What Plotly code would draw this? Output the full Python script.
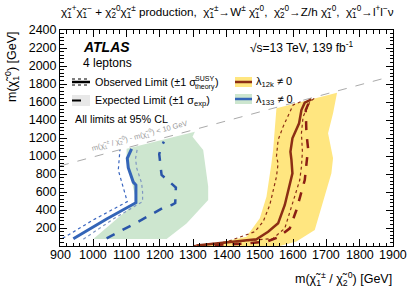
import plotly.graph_objects as go

# ---------------- data ----------------
# lambda_133 (blue / green)
obs133_x = [940, 1040, 1128, 1128, 1120, 1105, 1102, 1115]
obs133_y = [80, 300, 481, 678, 710, 870, 974, 1078]
obs133_up_x = [970, 1060, 1148, 1148, 1145, 1130, 1127, 1132]
obs133_up_y = [75, 300, 493, 600, 700, 870, 974, 1078]
obs133_dn_x = [908, 1000, 1102, 1075, 1080]
obs133_dn_y = [85, 290, 493, 844, 1067]
exp133_x = [1040, 1130, 1210, 1235, 1246, 1248, 1205, 1198, 1205, 1212]
exp133_y = [85, 260, 425, 455, 478, 650, 790, 1020, 1110, 1160]
band133_x = [1100, 1100, 1115, 1130, 1000, 1220, 1280, 1345, 1345, 1335, 1330, 1298, 1305]
band133_y = [1080, 975, 720, 490, 78, 78, 250, 510, 660, 937, 1067, 1215, 1270]

# lambda_12k (brown / yellow)
obs12k_x = [1310, 1400, 1490, 1525, 1555, 1575, 1598, 1595, 1592, 1598, 1618, 1625, 1635, 1655]
obs12k_y = [5, 40, 75, 159, 252, 456, 807, 956, 1048, 1196, 1363, 1511, 1593, 1630]
obs12k_up_x = [1320, 1450, 1540, 1575, 1595, 1620, 1625, 1628, 1625, 1630, 1650, 1670]
obs12k_up_y = [8, 50, 85, 196, 437, 733, 881, 1048, 1252, 1437, 1600, 1660]
obs12k_dn_x = [1300, 1400, 1485, 1510, 1530, 1550, 1555, 1550, 1555, 1570, 1600, 1630]
obs12k_dn_y = [5, 45, 159, 270, 456, 770, 919, 993, 1178, 1326, 1567, 1615]
exp12k_x = [1310, 1450, 1520, 1555, 1590, 1610, 1635, 1642, 1645, 1640, 1638, 1648]
exp12k_y = [3, 25, 48, 96, 196, 400, 733, 956, 1085, 1252, 1511, 1600]
band12k_x = [1550, 1545, 1540, 1535, 1520, 1500, 1460, 1380, 1300, 1450, 1560, 1610, 1665, 1715, 1720, 1705, 1720, 1732]
band12k_y = [1530, 1289, 1067, 919, 548, 307, 104, 40, 0, 0, 0, 50, 178, 807, 974, 1252, 1474, 1704]

# kinematic boundary  m(chi1+-) - m(chi10) = 10 GeV
kin_x = [900, 1900]
kin_y = [890, 1890]

x_ticks = [900, 1000, 1100, 1200, 1300, 1400, 1500, 1600, 1700, 1800, 1900]
y_ticks = [200, 400, 600, 800, 1000, 1200, 1400, 1600, 1800, 2000, 2200, 2400]

# ---------------- styling ----------------
FONT = "Liberation Sans"
YELLOW = "#ffe680"
GREEN = "#cde6cf"
BROWN = "#8c2e14"
BLUE = "#3465b8"

fig = go.Figure()

def band(x, y, color):
    fig.add_trace(go.Scatter(x=x, y=y, fill="toself", fillcolor=color, mode="lines",
                             line=dict(width=0), hoverinfo="skip", showlegend=False))

def line(x, y, color, width, dash="solid"):
    fig.add_trace(go.Scatter(x=x, y=y, mode="lines", line=dict(color=color, width=width, dash=dash),
                             hoverinfo="skip", showlegend=False))

band(band133_x, band133_y, GREEN)
band(band12k_x, band12k_y, YELLOW)
line(kin_x, kin_y, "#aaaaaa", 1, "dash")

line(obs133_dn_x, obs133_dn_y, "#3a66c0", 1.2, "dot")
line(obs133_up_x, obs133_up_y, "#7f97c2", 1.2, "dot")
line(exp133_x, exp133_y, "#2a55a8", 2.5, "dash")
line(obs133_x, obs133_y, BLUE, 3)

line(obs12k_dn_x, obs12k_dn_y, BROWN, 1.2, "dot")
line(obs12k_up_x, obs12k_up_y, BROWN, 1.2, "dot")
line(exp12k_x, exp12k_y, "#8b1e14", 2.5, "dash")
line(obs12k_x, obs12k_y, BROWN, 2.5)

# ---------------- layout ----------------
L, R, T, B = 60, 14, 30, 46
W, H = 407, 292
pw, ph = W - L - R, H - T - B

def px(xp):
    return (xp - L) / pw

def py(yp):
    return (H - B - yp) / ph

axis_common = dict(showgrid=False, zeroline=False, showline=True, linecolor="black", linewidth=1,
                   mirror="ticks", ticks="inside", tickcolor="black", ticklen=7, automargin=False,
                   tickfont=dict(family=FONT, size=12.5, color="black"))

fig.update_layout(
    width=W, height=H, margin=dict(l=L, r=R, t=T, b=B, autoexpand=False),
    plot_bgcolor="white", paper_bgcolor="white",
    xaxis=dict(range=[900, 1900], tickvals=x_ticks, showticklabels=False,
               minor=dict(dtick=20, tick0=900, ticks="inside", ticklen=3.5, tickcolor="black"),
               **axis_common),
    yaxis=dict(range=[0, 2400], tickvals=y_ticks, ticktext=[str(v) for v in y_ticks],
               minor=dict(dtick=40, tick0=0, ticks="inside", ticklen=3.5, tickcolor="black"),
               **axis_common),
    showlegend=False,
)

ann = []
def text(x, y, s, size=11, xanchor="left", yanchor="middle", color="black", angle=0, xref="paper", yref="paper", **kw):
    ann.append(dict(x=x, y=y, xref=xref, yref=yref, text=s, showarrow=False, xanchor=xanchor,
                    yanchor=yanchor, textangle=angle,
                    font=dict(family=FONT, size=size, color=color), **kw))

# x tick labels
for v in x_ticks:
    text(v, py(255), str(v), size=12.5, xanchor="center", xref="x")

chi = "χ̃"
title = (f"{chi}<sub>1</sub><sup>+</sup>{chi}<sub>1</sub><sup>−</sup> + {chi}<sub>2</sub><sup>0</sup>{chi}<sub>1</sub><sup>±</sup> production,  "
         f"{chi}<sub>1</sub><sup>±</sup>→W<sup>±</sup> {chi}<sub>1</sub><sup>0</sup>,  "
         f"{chi}<sub>2</sub><sup>0</sup>→Z/h {chi}<sub>1</sub><sup>0</sup>,  "
         f"{chi}<sub>1</sub><sup>0</sup>→l<sup>+</sup>l<sup>−</sup>ν")
text(px(396), py(12), title, size=11.7, xanchor="right")

text(px(394), py(279), f"m({chi}<sub>1</sub><sup>±</sup> / {chi}<sub>2</sub><sup>0</sup>) [GeV]", size=12.5, xanchor="right")
text(px(12), py(30), f"m({chi}<sub>1</sub><sup>0</sup>) [GeV]", size=12.5, xanchor="center", yanchor="top", angle=-90)

text(px(81), py(47), "<b><i>ATLAS</i></b>", size=14)
text(px(81), py(63), "4 leptons", size=12)
text(px(248), py(47), "√s=13 TeV, 139 fb<sup>-1</sup>", size=12)
text(px(93), py(82), "Observed Limit (±1 σ", size=10.8)
text(px(193), py(78), "SUSY", size=7)
text(px(193), py(87), "theory", size=7)
text(px(213), py(82), ")", size=10.8)
text(px(93), py(101), "Expected Limit (±1 σ<sub>exp</sub>)", size=10.8)
text(px(73), py(119), "All limits at 95% CL", size=10.8)
text(px(254), py(82), "λ<sub>12k</sub> ≠ 0", size=11)
text(px(254), py(100), "λ<sub>133</sub> ≠ 0", size=11)

text(1140, 1130, f"m({chi}<sub>1</sub><sup>±</sup> / {chi}<sub>2</sub><sup>0</sup>) - m({chi}<sub>1</sub><sup>0</sup>) < 10 GeV",
     size=7.5, xanchor="center", yanchor="middle", color="#999999", angle=-15, xref="x", yref="y", yshift=9)

fig.update_layout(annotations=ann)

# legend samples (paper coordinates)
shapes = []
def rect(x0, y0, x1, y1, color):
    shapes.append(dict(type="rect", xref="paper", yref="paper", x0=px(x0), x1=px(x1), y0=py(y0), y1=py(y1),
                       fillcolor=color, line=dict(width=0)))

def seg(x0, x1, yy, color, width, dash="solid"):
    shapes.append(dict(type="line", xref="paper", yref="paper", x0=px(x0), x1=px(x1), y0=py(yy), y1=py(yy),
                       line=dict(color=color, width=width, dash=dash)))

seg(72, 90, 79, "black", 1, "dot")
seg(72, 90, 82, "black", 2.5)
seg(72, 90, 85, "black", 1, "dot")
rect(72, 95, 90, 106, "#e8e8e8")
seg(72, 90, 100.5, "black", 2, "dash")
rect(235, 77, 252, 87, YELLOW)
seg(235, 252, 82, BROWN, 2.5)
rect(235, 94, 252, 104, GREEN)
seg(235, 252, 99, BLUE, 2.5)

fig.update_layout(shapes=shapes)

fig.write_html("out.html", config={"displayModeBar": False},
               post_script="document.body.style.margin='0';document.body.style.overflow='hidden';")
